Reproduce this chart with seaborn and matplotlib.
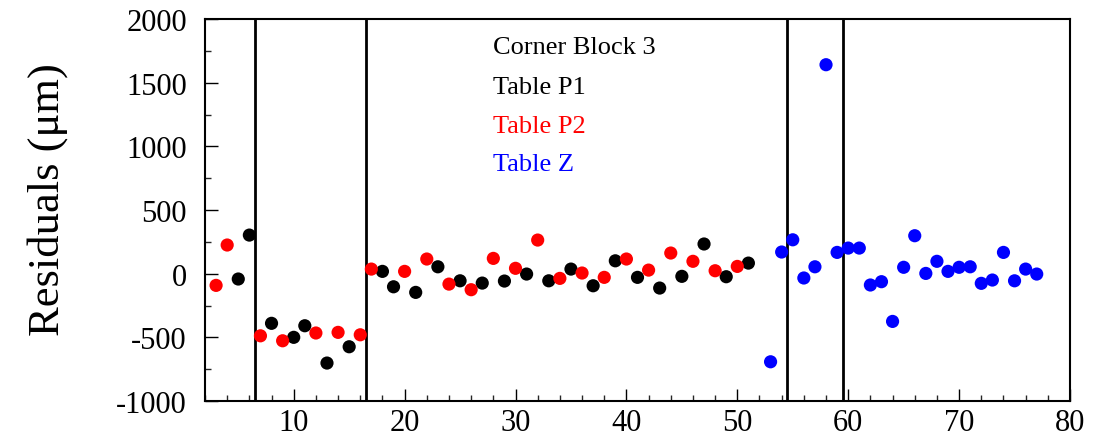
import matplotlib
matplotlib.use("Agg")
import matplotlib.pyplot as plt
from matplotlib.ticker import MultipleLocator
import numpy as np
import pandas as pd
import seaborn as sns

# ---- data ----
p1_x = [5, 6, 8, 10, 11, 13, 15, 18, 19, 21, 23, 25, 27, 29, 31, 33, 35, 37, 39, 41, 43, 45, 47, 49, 51]
p1_y = [-42, 303, -390, -500, -409, -702, -574, 18, -103, -147, 54, -56, -74, -58, -3, -56, 36, -95, 101, -29, -113, -21, 233, -24, 83]

p2_x = [3, 4, 7, 9, 12, 14, 16, 17, 20, 22, 24, 26, 28, 30, 32, 34, 36, 38, 40, 42, 44, 46, 48, 50]
p2_y = [-92, 225, -488, -527, -466, -461, -480, 36, 18, 115, -82, -126, 120, 42, 264, -37, 5, -29, 115, 28, 162, 97, 23, 57]

z_x = [53, 54, 55, 56, 57, 58, 59, 60, 61, 62, 63, 64, 65, 66, 67, 68, 69, 70, 71, 72, 73, 74, 75, 76, 77]
z_y = [-692, 170, 266, -34, 54, 1641, 167, 201, 201, -89, -63, -375, 50, 298, 2, 97, 18, 50, 54, -76, -50, 167, -56, 36, -3]

separators = [6.5, 16.5, 54.5, 59.5]
legend_labels = ["Corner Block 3", "Table P1", "Table P2", "Table Z"]
legend_colors = ["black", "black", "red", "blue"]
x_ticks = [10, 20, 30, 40, 50, 60, 70, 80]
y_ticks = [-1000, -500, 0, 500, 1000, 1500, 2000]

df = pd.DataFrame({
    "x": p1_x + p2_x + z_x,
    "y": p1_y + p2_y + z_y,
    "series": ["Table P1"] * len(p1_x) + ["Table P2"] * len(p2_x) + ["Table Z"] * len(z_x),
})

sns.set_style("ticks")
plt.rcParams["font.family"] = ["Liberation Serif", "DejaVu Serif"]
plt.rcParams["axes.unicode_minus"] = False

fig = plt.figure(figsize=(11.06, 4.39), dpi=100)
ax = fig.add_axes([205 / 1106, 1 - 402 / 439, (1070 - 205) / 1106, (402 - 20) / 439])

sns.scatterplot(data=df, x="x", y="y", hue="series",
                palette={"Table P1": "black", "Table P2": "red", "Table Z": "blue"},
                s=90, linewidth=0, legend=False, ax=ax, zorder=3)

for sx in separators:
    ax.axvline(sx, color="black", lw=2, zorder=2)

ax.set_xlim(2, 80)
ax.set_ylim(-1000, 2000)
ax.set_xticks(x_ticks)
ax.set_yticks(y_ticks)
ax.xaxis.set_minor_locator(MultipleLocator(2))
ax.yaxis.set_minor_locator(MultipleLocator(250))
ax.tick_params(axis="both", which="major", direction="in", length=9, width=1,
               labelsize=22, colors="black")
ax.tick_params(axis="both", which="minor", direction="in", length=4.5, width=1)
ax.tick_params(axis="x", which="major", pad=5)
ax.tick_params(axis="y", which="major", pad=13)
for s in ax.spines.values():
    s.set_linewidth(1.5)
    s.set_color("black")
    s.set_visible(True)

ax.set_xlabel("")
ax.set_ylabel("Residuals (\u03bcm)", fontsize=32, color="black")
ax.yaxis.set_label_coords(-0.158, 0.53)

y_pos = [1780, 1466, 1160, 861]
for lab, col, yp in zip(legend_labels, legend_colors, y_pos):
    ax.text(28, yp, lab, color=col, fontsize=19, va="center", ha="left")

fig.savefig("out.png", dpi=100)
